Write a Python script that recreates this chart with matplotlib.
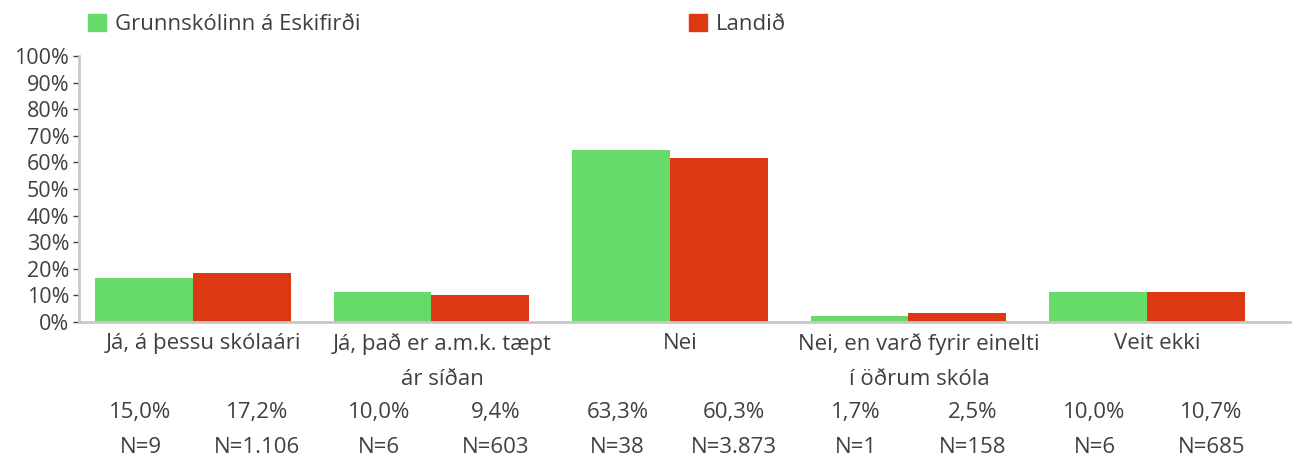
import matplotlib

matplotlib.use("Agg")
import matplotlib.pyplot as plt
import numpy as np
from matplotlib.patches import Patch

plt.rcParams["font.family"] = ["Open Sans", "DejaVu Sans"]

categories = [
    "Já, á þessu skólaári",
    "Já, það er a.m.k. tæpt\nár síðan",
    "Nei",
    "Nei, en varð fyrir einelti\ní öðrum skóla",
    "Veit ekki",
]
series_names = ["Grunnskólinn á Eskifirði", "Landið"]
# bar heights as drawn in the picture (fractions)
school_heights = [0.165, 0.113, 0.647, 0.023, 0.113]
country_heights = [0.184, 0.102, 0.617, 0.034, 0.113]
# numbers printed under the chart
school_pct = ["15,0%", "10,0%", "63,3%", "1,7%", "10,0%"]
country_pct = ["17,2%", "9,4%", "60,3%", "2,5%", "10,7%"]
school_n = ["N=9", "N=6", "N=38", "N=1", "N=6"]
country_n = ["N=1.106", "N=603", "N=3.873", "N=158", "N=685"]
yticks = np.arange(0, 1.01, 0.1)

GREEN = "#66db69"
RED = "#dc3912"
TEXT = "#404040"
AXIS = "#c8c8c8"
FS = 16

fig = plt.figure(figsize=(13.01, 4.61), dpi=100)
ax = fig.add_axes([79 / 1301, 139 / 461, (1290 - 79) / 1301, 266 / 461])

x = np.arange(len(categories))
w = 0.41
ax.bar(x - w / 2, school_heights, width=w, color=GREEN, label=series_names[0])
ax.bar(x + w / 2, country_heights, width=w, color=RED, label=series_names[1])

ax.set_xlim(-0.478, 4.6)
ax.set_ylim(0, 1)
ax.set_yticks(yticks)
ax.set_yticklabels([f"{round(t * 100)}%" for t in yticks])
ax.set_xticks(x + 0.045)
ax.set_xticklabels(categories, linespacing=1.9, va="top")

ax.tick_params(axis="y", length=4, width=1, color=TEXT, labelcolor=TEXT, labelsize=FS - 0.5, pad=3)
ax.tick_params(axis="x", length=0, labelcolor=TEXT, labelsize=FS, pad=8)
for side in ("top", "right"):
    ax.spines[side].set_visible(False)
for side in ("left", "bottom"):
    ax.spines[side].set_color(AXIS)
    ax.spines[side].set_linewidth(2)

# value / count rows below the category labels
tr = ax.get_xaxis_transform()
for i in range(len(categories)):
    for dx, pct, n in ((-0.22, school_pct[i], school_n[i]), (0.27, country_pct[i], country_n[i])):
        ax.text(i + dx, -0.342, pct, transform=tr, ha="center", va="center", fontsize=FS, color=TEXT)
        ax.text(i + dx, -0.47, n, transform=tr, ha="center", va="center", fontsize=FS, color=TEXT)

handles = [Patch(color=GREEN), Patch(color=RED)]
fig.legend(
    handles, series_names, loc="upper left", bbox_to_anchor=(88 / 1301, 1 - 14 / 461),
    ncol=2, frameon=False, fontsize=FS, labelcolor=TEXT, handlelength=0.8, handleheight=0.8,
    handletextpad=0.4, columnspacing=14.8, borderpad=0, borderaxespad=0,
)

fig.savefig("out.png", dpi=100, facecolor="white")
